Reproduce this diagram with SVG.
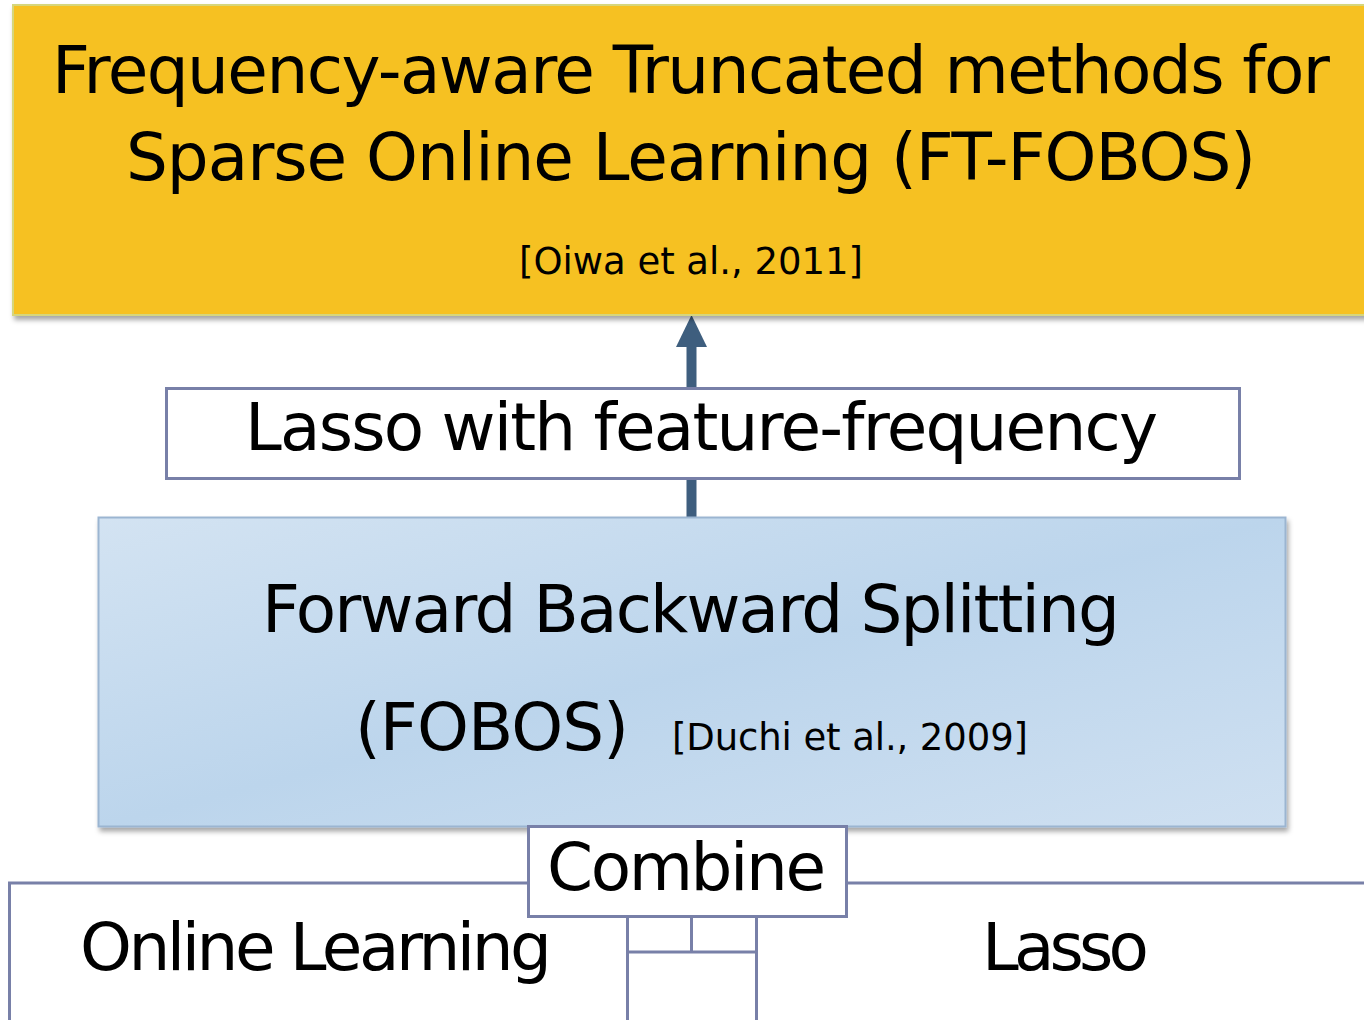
<svg xmlns="http://www.w3.org/2000/svg" width="1364" height="1020" viewBox="0 0 1364 1020">
  <defs>
    <filter id="shadow" x="-5%" y="-5%" width="115%" height="120%">
      <feDropShadow dx="2" dy="4" stdDeviation="2.5" flood-color="#000" flood-opacity="0.35"/>
    </filter>
    <linearGradient id="blueFill" x1="0" y1="0" x2="1" y2="1">
      <stop offset="0" stop-color="#D3E3F2"/>
      <stop offset="0.5" stop-color="#BCD5EC"/>
      <stop offset="1" stop-color="#CFE0F1"/>
    </linearGradient>
  </defs>
  <style>
    text { font-family: "DejaVu Sans", Verdana, sans-serif; fill: #000; }
    .big { font-size: 66px; }
    .cite { font-size: 37px; }
    .frame { fill: #fff; stroke: #7880A8; stroke-width: 3; }
    .line { fill: none; stroke: #7880A8; stroke-width: 3; }
    .shaft { fill: none; stroke: #3E5E7E; stroke-width: 10; }
  </style>

  <rect width="1364" height="1020" fill="#fff"/>

  <!-- connectors -->
  <g id="connectors">
    <line class="shaft" x1="691.5" y1="517" x2="691.5" y2="344"/>
    <path d="M691.5 315 L707 347 L676 347 Z" fill="#3E5E7E"/>
    <!-- outline of the two base boxes -->
    <polyline class="line" points="528,883 9.5,883 9.5,1022"/>
    <line class="line" x1="847" y1="883" x2="1366" y2="883"/>
    <!-- joint beneath Combine -->
    <line class="line" x1="627.5" y1="917" x2="627.5" y2="1022"/>
    <line class="line" x1="756.5" y1="917" x2="756.5" y2="1022"/>
    <line class="line" x1="627.5" y1="952" x2="756.5" y2="952"/>
    <line class="line" x1="691.5" y1="917" x2="691.5" y2="952"/>
  </g>

  <g id="ft-fobos">
    <rect x="13" y="5" width="1360" height="310" fill="#F6C121" stroke="#D6D67C" stroke-width="2" filter="url(#shadow)"/>
    <text class="big" x="52" y="93" textLength="1278">Frequency-aware Truncated methods for</text>
    <text class="big" x="126" y="180" textLength="1130">Sparse Online Learning (FT-FOBOS)</text>
    <text class="cite" x="519" y="274" textLength="344">[Oiwa et al., 2011]</text>
  </g>

  <g id="lasso-freq">
    <rect class="frame" x="166.5" y="388.5" width="1073" height="90"/>
    <text class="big" x="245" y="450" textLength="913">Lasso with feature-frequency</text>
  </g>

  <g id="fobos">
    <rect x="98.5" y="517.5" width="1187" height="309" fill="url(#blueFill)" stroke="#9BB5D1" stroke-width="2" filter="url(#shadow)"/>
    <text class="big" x="262" y="632" textLength="858">Forward Backward Splitting</text>
    <text class="big" x="355" y="750" textLength="274">(FOBOS)</text>
    <text class="cite" x="672" y="750" textLength="356">[Duchi et al., 2009]</text>
  </g>

  <g id="combine">
    <rect class="frame" x="528.5" y="826.5" width="318" height="90"/>
    <text class="big" x="547" y="890" textLength="279">Combine</text>
  </g>

  <g id="online-learning">
    <text class="big" x="80" y="970" textLength="472">Online Learning</text>
  </g>

  <g id="lasso">
    <text class="big" x="982" y="970" textLength="167">Lasso</text>
  </g>
</svg>
